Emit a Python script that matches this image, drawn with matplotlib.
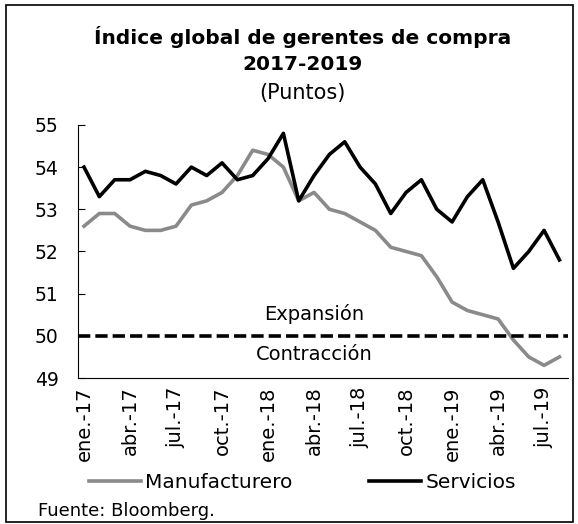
import numpy as np
import matplotlib
matplotlib.use("Agg")
import matplotlib.pyplot as plt
import matplotlib.patches as patches

plt.rcParams['font.family'] = ['DejaVu Sans']

# Monthly data, ene.-17 to ago.-19
months = ["ene.-17", "feb.-17", "mar.-17", "abr.-17", "may.-17", "jun.-17",
          "jul.-17", "ago.-17", "sep.-17", "oct.-17", "nov.-17", "dic.-17",
          "ene.-18", "feb.-18", "mar.-18", "abr.-18", "may.-18", "jun.-18",
          "jul.-18", "ago.-18", "sep.-18", "oct.-18", "nov.-18", "dic.-18",
          "ene.-19", "feb.-19", "mar.-19", "abr.-19", "may.-19", "jun.-19",
          "jul.-19", "ago.-19"]
manufacturero = [52.6, 52.9, 52.9, 52.6, 52.5, 52.5, 52.6, 53.1, 53.2, 53.4,
                 53.8, 54.4, 54.3, 54.0, 53.2, 53.4, 53.0, 52.9, 52.7, 52.5,
                 52.1, 52.0, 51.9, 51.4, 50.8, 50.6, 50.5, 50.4, 49.9, 49.5,
                 49.3, 49.5]
servicios = [54.0, 53.3, 53.7, 53.7, 53.9, 53.8, 53.6, 54.0, 53.8, 54.1,
             53.7, 53.8, 54.2, 54.8, 53.2, 53.8, 54.3, 54.6, 54.0, 53.6,
             52.9, 53.4, 53.7, 53.0, 52.7, 53.3, 53.7, 52.7, 51.6, 52.0,
             52.5, 51.8]
tick_idx = list(range(0, len(months), 3))

fig = plt.figure(figsize=(5.78, 5.24), dpi=100)
ax = fig.add_axes([0.135, 0.2786, 0.848, 0.483])

x = np.arange(len(months))
ax.plot(x, manufacturero, color='#8a8a8a', lw=2.6, label='Manufacturero')
ax.plot(x, servicios, color='black', lw=2.6, label='Servicios')
ax.axhline(50, color='black', lw=2.6, ls=(0, (3.4, 1.4)))

ax.text(15.0, 50.28, "Expansión", ha='center', va='bottom', fontsize=14)
ax.text(15.0, 49.78, "Contracción", ha='center', va='top', fontsize=14)

ax.set_xlim(-0.39, 31.57)
ax.set_ylim(49, 55)
ax.set_yticks(range(49, 56))
ax.tick_params(axis='y', direction='in', length=5, labelsize=13.5, pad=14)
ax.set_xticks(tick_idx)
ax.set_xticklabels([months[i] for i in tick_idx], rotation=90, fontsize=14)
ax.tick_params(axis='x', length=0, pad=6)
for s in ['top', 'right']:
    ax.spines[s].set_visible(False)

fig.text(0.524, 0.93, "Índice global de gerentes de compra", ha='center', va='center',
         fontsize=14.5, fontweight='bold')
fig.text(0.523, 0.877, "2017-2019", ha='center', va='center', fontsize=14.5, fontweight='bold')
fig.text(0.523, 0.822, "(Puntos)", ha='center', va='center', fontsize=15)

fig.legend(loc='center', bbox_to_anchor=(0.523, 0.079), ncol=2, frameon=False,
           fontsize=14.5, handlelength=2.6, handletextpad=0.2, columnspacing=3.8)
fig.text(0.066, 0.024, "Fuente: Bloomberg.", ha='left', va='center', fontsize=13)

fig.patches.append(patches.Rectangle((0.011, 0.003), 0.98, 0.988, transform=fig.transFigure,
                                     fill=False, edgecolor='black', lw=1.2))

fig.savefig("out.png", dpi=100)
